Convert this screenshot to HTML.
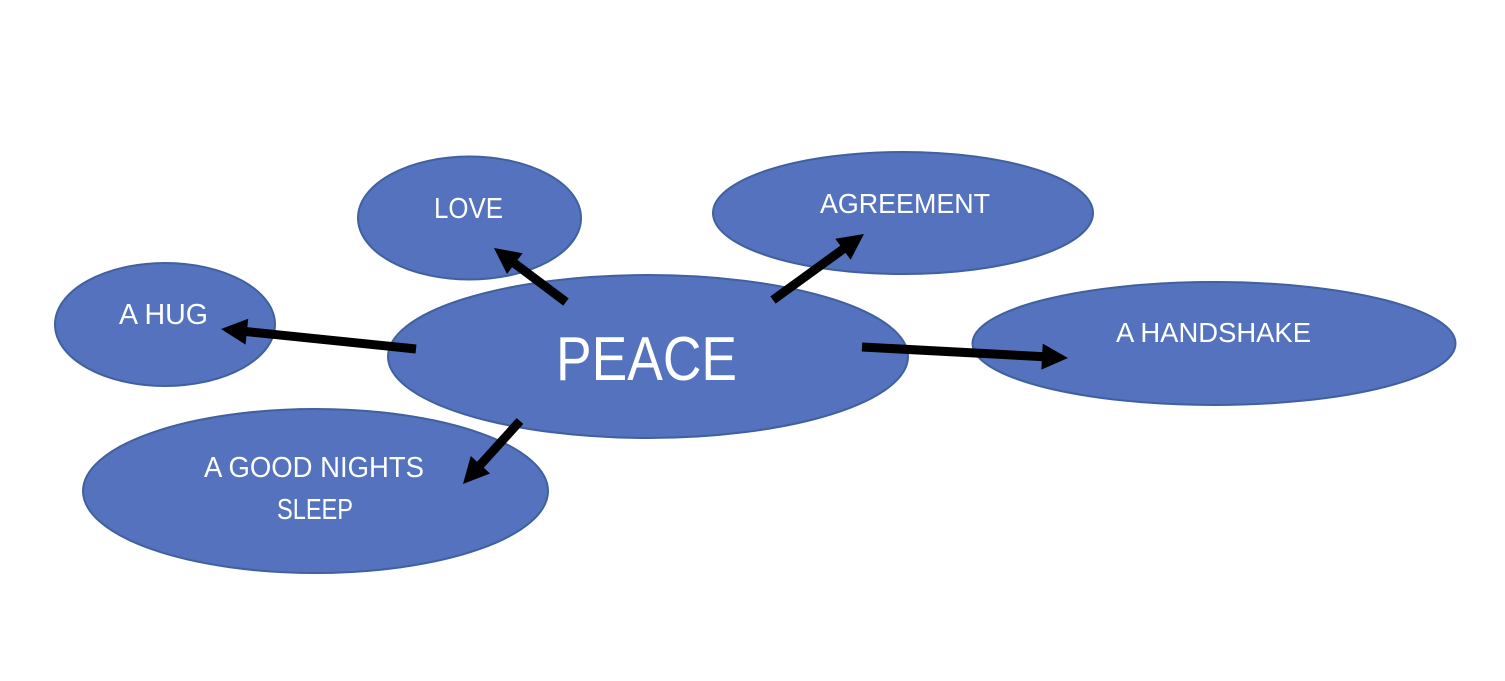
<!DOCTYPE html>
<html>
<head>
<meta charset="utf-8">
<style>
  html, body { margin: 0; padding: 0; background: #ffffff; }
  body { width: 1505px; height: 681px; overflow: hidden; }
  svg { display: block; }
  text { font-family: "Liberation Sans", "DejaVu Sans", sans-serif; fill: #ffffff; }
</style>
</head>
<body>
<svg width="1505" height="681" viewBox="0 0 1505 681" xmlns="http://www.w3.org/2000/svg">
  <rect x="0" y="0" width="1505" height="681" fill="#ffffff"/>

  <g fill="#5472BE" stroke="#41609F" stroke-width="2">
    <!-- LOVE -->
    <ellipse cx="469.5" cy="218" rx="111.5" ry="61.5"/>
    <!-- AGREEMENT -->
    <ellipse cx="903" cy="213" rx="190" ry="61"/>
    <!-- A HUG -->
    <ellipse cx="165" cy="324.5" rx="110" ry="61.5"/>
    <!-- A HANDSHAKE -->
    <ellipse cx="1214" cy="343.5" rx="241.5" ry="61.5"/>
    <!-- A GOOD NIGHTS SLEEP -->
    <ellipse cx="315.5" cy="491" rx="232.5" ry="82"/>
    <!-- PEACE -->
    <ellipse cx="648" cy="356.5" rx="260" ry="81.5"/>
  </g>

  <!-- Labels -->
  <text x="556" y="380" font-size="62" textLength="181" lengthAdjust="spacingAndGlyphs">PEACE</text>
  <text x="434" y="218" font-size="29" textLength="69" lengthAdjust="spacingAndGlyphs">LOVE</text>
  <text x="820" y="213" font-size="28" textLength="170" lengthAdjust="spacingAndGlyphs">AGREEMENT</text>
  <text x="1116" y="342" font-size="28" textLength="195" lengthAdjust="spacingAndGlyphs">A HANDSHAKE</text>
  <text x="119" y="324" font-size="29" textLength="89" lengthAdjust="spacingAndGlyphs">A HUG</text>
  <text x="204" y="477" font-size="29" textLength="220" lengthAdjust="spacingAndGlyphs">A GOOD NIGHTS</text>
  <text x="277" y="519" font-size="29" textLength="76" lengthAdjust="spacingAndGlyphs">SLEEP</text>

  <!-- Arrows -->
  <g fill="#000000">
    <!-- to LOVE: L=90 -->
    <path transform="translate(566,302) rotate(216.87)" d="M0,-4.5 L64,-4.5 L64,-13 L90,0 L64,13 L64,4.5 L0,4.5 Z"/>
    <!-- to AGREEMENT: L=112.4 -->
    <path transform="translate(773,300) rotate(-35.95)" d="M0,-4.5 L86.4,-4.5 L86.4,-13 L112.4,0 L86.4,13 L86.4,4.5 L0,4.5 Z"/>
    <!-- to A HUG: L=196 -->
    <path transform="translate(416,349) rotate(185.86)" d="M0,-4.5 L170,-4.5 L170,-13 L196,0 L170,13 L170,4.5 L0,4.5 Z"/>
    <!-- to A GOOD NIGHTS SLEEP: L=85 -->
    <path transform="translate(520,421) rotate(132.14)" d="M0,-4.5 L59,-4.5 L59,-13 L85,0 L59,13 L59,4.5 L0,4.5 Z"/>
    <!-- to A HANDSHAKE: L=206.3 -->
    <path transform="translate(862,347) rotate(3.06)" d="M0,-4.5 L180.3,-4.5 L180.3,-13 L206.3,0 L180.3,13 L180.3,4.5 L0,4.5 Z"/>
  </g>
</svg>
</body>
</html>
